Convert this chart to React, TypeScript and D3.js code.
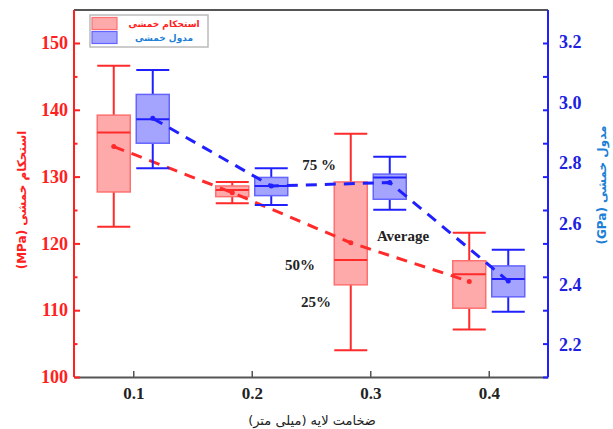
import React, { useEffect, useRef } from 'react';
import * as d3 from 'd3';

// layer thickness (mm)
const thickness = [0.1, 0.2, 0.3, 0.4];
// flexural strength (MPa)
const strengthMin = [122.5, 126.0, 104.0, 107.1];
const strengthQ1 = [127.7, 127.0, 113.8, 110.3];
const strengthMedian = [136.6, 128.0, 117.5, 115.4];
const strengthQ3 = [139.2, 128.6, 129.2, 117.4];
const strengthMax = [146.6, 129.2, 136.4, 121.6];
const strengthMean = [134.5, 127.6, 120.1, 114.3];
// flexural modulus (GPa)
const modulusMin = [2.783, 2.662, 2.646, 2.31];
const modulusQ1 = [2.866, 2.693, 2.681, 2.359];
const modulusMedian = [2.945, 2.725, 2.753, 2.418];
const modulusQ3 = [3.027, 2.753, 2.764, 2.461];
const modulusMax = [3.108, 2.783, 2.821, 2.514];
const modulusMean = [2.948, 2.725, 2.736, 2.411];

const leftTicks = [100, 110, 120, 130, 140, 150];
const rightTicks = [2.2, 2.4, 2.6, 2.8, 3.0, 3.2];

const legendLabels = ['استحکام خمشی', 'مدول خمشی'];
const xTitle = 'ضخامت لایه (میلی متر)';
const leftTitle = 'استحکام خمشی (MPa)';
const rightTitle = 'مدول خمشی (GPa)';

const annotations = [
	{ text: '75 %', x: 319, y: 165 },
	{ text: 'Average', x: 403, y: 236 },
	{ text: '50%', x: 300, y: 265 },
	{ text: '25%', x: 316, y: 302 },
];

const serif = '"Liberation Serif", "Times New Roman", serif';
const arabic = '"DejaVu Sans", sans-serif';

export default function App() {
	const ref = useRef<SVGSVGElement>(null);
	useEffect(() => {
		const left = 74, right = 548, top = 10, bottom = 377;
		const svg = d3.select(ref.current);
		svg.selectAll('*').remove();

		const x = d3.scaleLinear().domain([0.05, 0.45]).range([left, right]);
		const y = d3.scaleLinear().domain([100, 150]).range([bottom, 43]);
		const y2 = d3.scaleLinear().domain([2.2, 3.2]).range([345, 42]);

		const offset = 19.5, boxW = 33;

		const drawBoxes = (mins, q1s, meds, q3s, maxs, means, yScale, dx, stroke, fill, edge) => {
			const g = svg.append('g');
			thickness.forEach((t, i) => {
				const cx = x(t) + dx;
				// whiskers
				g.append('line').attr('x1', cx).attr('x2', cx).attr('y1', yScale(q3s[i])).attr('y2', yScale(maxs[i]))
					.attr('stroke', stroke).attr('stroke-width', 2);
				g.append('line').attr('x1', cx).attr('x2', cx).attr('y1', yScale(q1s[i])).attr('y2', yScale(mins[i]))
					.attr('stroke', stroke).attr('stroke-width', 2);
				[mins[i], maxs[i]].forEach(v => {
					g.append('line').attr('x1', cx - boxW / 2).attr('x2', cx + boxW / 2)
						.attr('y1', yScale(v)).attr('y2', yScale(v))
						.attr('stroke', stroke).attr('stroke-width', 2);
				});
				g.append('rect').attr('x', cx - boxW / 2).attr('width', boxW)
					.attr('y', yScale(q3s[i])).attr('height', yScale(q1s[i]) - yScale(q3s[i]))
					.attr('fill', fill).attr('stroke', edge).attr('stroke-width', 1.5);
				g.append('line').attr('x1', cx - boxW / 2).attr('x2', cx + boxW / 2)
					.attr('y1', yScale(meds[i])).attr('y2', yScale(meds[i]))
					.attr('stroke', stroke).attr('stroke-width', 2);
			});
			const line = d3.line<number>().x((d, i) => x(thickness[i]) + dx).y(d => yScale(d));
			svg.append('path').datum(means).attr('d', line).attr('fill', 'none')
				.attr('stroke', stroke).attr('stroke-width', 3).attr('stroke-dasharray', '11,8');
			svg.selectAll(null).data(means).enter().append('circle')
				.attr('cx', (d, i) => x(thickness[i]) + dx).attr('cy', d => yScale(d))
				.attr('r', 2.5).attr('fill', stroke);
		};

		drawBoxes(strengthMin, strengthQ1, strengthMedian, strengthQ3, strengthMax, strengthMean, y, -offset, '#ff2a2a', '#ffaaaa', '#ff7070');
		drawBoxes(modulusMin, modulusQ1, modulusMedian, modulusQ3, modulusMax, modulusMean, y2, offset, '#2020ff', '#a4a4ff', '#6464ff');

		// frame top
		svg.append('line').attr('x1', left).attr('x2', right).attr('y1', top).attr('y2', top)
			.attr('stroke', '#555').attr('stroke-width', 2);

		// bottom axis
		const xAxis = svg.append('g').attr('transform', 'translate(0,' + bottom + ')')
			.call(d3.axisBottom(x).tickValues(thickness).tickSize(-6).tickPadding(10).tickFormat(d3.format('.1f')).tickSizeOuter(0));
		xAxis.select('.domain').attr('stroke', '#555').attr('stroke-width', 2);
		xAxis.selectAll('line').attr('stroke', '#555').attr('stroke-width', 1.5);
		xAxis.selectAll('text').attr('font-family', serif).attr('font-weight', 'bold').attr('font-size', 17).attr('fill', '#222');

		// left axis
		const yAxis = svg.append('g').attr('transform', 'translate(' + left + ',0)')
			.call(d3.axisLeft(y).tickValues(leftTicks).tickSize(-6).tickPadding(6).tickSizeOuter(0));
		yAxis.select('.domain').attr('d', 'M0,' + bottom + 'V' + top);
		yAxis.selectAll('.domain, line').attr('stroke', '#ff2020').attr('stroke-width', 2);
		yAxis.selectAll('text').attr('font-family', serif).attr('font-weight', 'bold').attr('font-size', 18).attr('fill', '#ff2020');
		svg.append('g').attr('transform', 'translate(' + left + ',0)')
			.call(d3.axisLeft(y).tickValues(leftTicks.slice(0, -1).map(v => v + 5)).tickSize(-3.5).tickFormat(() => '').tickSizeOuter(0))
			.call(g => g.select('.domain').remove())
			.selectAll('line').attr('stroke', '#ff2020').attr('stroke-width', 2);

		// right axis: tick marks follow the left grid, labels follow the modulus scale
		const rAxis = svg.append('g').attr('transform', 'translate(' + right + ',0)')
			.call(d3.axisRight(y).tickValues(d3.range(100, 151, 5)).tickSize(-5).tickFormat(() => '').tickSizeOuter(0));
		rAxis.select('.domain').attr('d', 'M0,' + bottom + 'V' + top);
		rAxis.selectAll('.domain, line').attr('stroke', '#2020ff').attr('stroke-width', 2);
		svg.append('g').attr('transform', 'translate(' + right + ',0)')
			.call(d3.axisRight(y2).tickValues(rightTicks).tickSize(0).tickPadding(11).tickFormat(d3.format('.1f')))
			.call(g => g.select('.domain').remove())
			.selectAll('text').attr('font-family', serif).attr('font-weight', 'bold').attr('font-size', 18).attr('fill', '#2020e0');

		// titles
		svg.append('text').text(xTitle).attr('x', 312).attr('y', 425).attr('text-anchor', 'middle')
			.attr('font-family', arabic).attr('font-size', 13).attr('fill', '#222').attr('direction', 'rtl');
		svg.append('text').text(leftTitle).attr('transform', 'translate(26,200) rotate(-90)').attr('text-anchor', 'middle')
			.attr('font-family', arabic).attr('font-size', 12).attr('font-weight', 'bold').attr('fill', '#ff2020').attr('direction', 'rtl');
		svg.append('text').text(rightTitle).attr('transform', 'translate(606,185) rotate(-90)').attr('text-anchor', 'middle')
			.attr('font-family', arabic).attr('font-size', 12).attr('font-weight', 'bold').attr('fill', '#1e7fd6').attr('direction', 'rtl');

		// annotations
		annotations.forEach(a => {
			svg.append('text').text(a.text).attr('x', a.x).attr('y', a.y).attr('dy', '0.35em').attr('text-anchor', 'middle')
				.attr('font-family', serif).attr('font-weight', 'bold').attr('font-size', 15).attr('fill', '#222');
		});

		// legend
		const lg = svg.append('g');
		lg.append('rect').attr('x', 90).attr('y', 15).attr('width', 118).attr('height', 32)
			.attr('fill', '#fff').attr('stroke', '#bbb').attr('stroke-width', 1.5);
		const legendColors = [['#ffaaaa', '#ff7070', '#ff2020'], ['#a4a4ff', '#6464ff', '#1e7fd6']];
		legendLabels.forEach((label, i) => {
			lg.append('rect').attr('x', 92).attr('y', 17.5 + i * 14).attr('width', 25).attr('height', 12)
				.attr('fill', legendColors[i][0]).attr('stroke', legendColors[i][1]).attr('stroke-width', 1.2);
			lg.append('text').text(label).attr('x', 164).attr('y', 24 + i * 13.5).attr('dy', '0.35em').attr('text-anchor', 'middle')
				.attr('font-family', arabic).attr('font-size', 9).attr('font-weight', 'bold').attr('fill', legendColors[i][2]).attr('direction', 'rtl');
		});
	});
	return (
		<svg ref={ref} width={613} height={429}
			style={{ position: 'absolute', left: 0, top: 0, background: '#fff' }} />
	);
}
